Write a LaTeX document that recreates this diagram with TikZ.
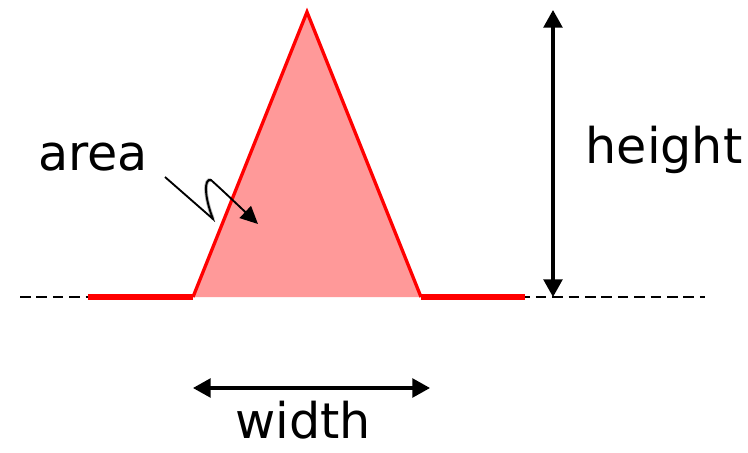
\documentclass[tikz,border=0pt]{standalone}
\usepackage{fontspec}
\setmainfont{DejaVu Sans}
\usetikzlibrary{calc, positioning, arrows.meta}

\definecolor{peakred}{HTML}{FF0000}
\definecolor{peakfill}{HTML}{FF9999}

\begin{document}
\begin{tikzpicture}[
  % one unit is one pixel of the reference, y downwards
  x=0.03cm, y=-0.03cm,
  font=\fontsize{42}{50}\selectfont,
  dim/.style={line width=2.6pt, {Triangle[length=15pt, width=16pt]}-{Triangle[length=15pt, width=16pt]}},
  baseline/.style={line width=2pt, dash pattern=on 9pt off 5pt},
  label/.style={inner sep=0pt, anchor=center}
]
  \useasboundingbox (0,0) rectangle (748,453);

  % base line and peak corners
  \coordinate (lineL) at (20,297);
  \coordinate (lineR) at (705,297);
  \coordinate (baseL) at (88,297);
  \coordinate (footL) at (193,297);
  \coordinate (apex) at (307,12);
  \coordinate (footR) at (421,297);
  \coordinate (baseR) at (525,297);

  \draw[baseline] (lineL) -- (footL);
  \draw[baseline] (footR) -- (lineR);

  % the peak
  \fill[peakfill] (footL) -- (apex) -- (footR) -- cycle;
  \draw[peakred, line width=2.8pt, line join=miter] (footL) -- (apex) -- (footR);
  \draw[peakred, line width=5.5pt] (baseL) -- (footL);
  \draw[peakred, line width=5.5pt] (footR) -- (baseR);

  % height
  \coordinate (htop) at (553,10);
  \coordinate (hbot) at (553,297);
  \draw[dim] (htop) -- (hbot);
  \node[label] (height) at (664,150) {height};

  % width
  \coordinate (wleft) at (193,388);
  \coordinate (wright) at (430,388);
  \draw[dim] (wleft) -- (wright);
  \node[label] (width) at (303,420) {width};

  % area with squiggly pointer
  \node[label] (area) at (93,157) {area};
  \coordinate (sqA) at (165,177);
  \coordinate (sqB) at (213,219);
  \coordinate (sqC) at (258,224);
  \draw[gray!60, line width=3pt] (sqB) .. controls (204,196) and (204,178) .. (211,180);
  \draw[line width=1.6pt, -{Triangle[length=15pt, width=14pt]}]
    (sqA) -- (sqB) .. controls (204,196) and (204,178) .. (211,180)
    .. controls (222,190) .. (sqC);
\end{tikzpicture}
\end{document}
